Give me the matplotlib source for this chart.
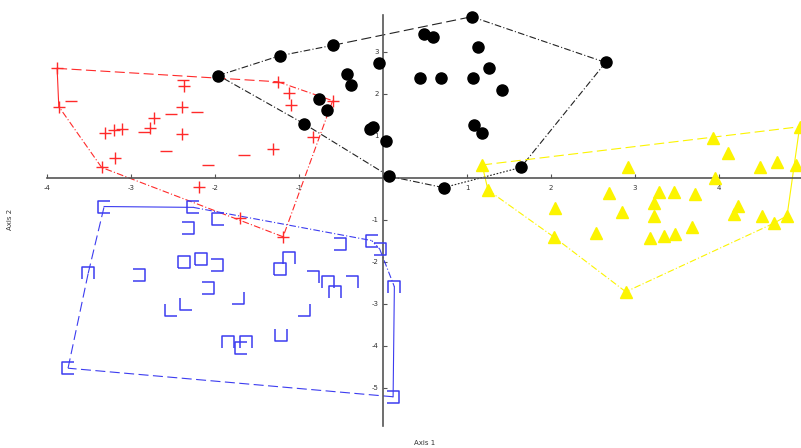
import matplotlib
matplotlib.use("Agg")
import matplotlib.pyplot as plt
from matplotlib.path import Path

plt.rcParams["axes.unicode_minus"] = False

# ---- data ----
black_x = [-1.96, -1.23, -0.595, 1.056, 2.65, 1.64, 0.72, 0.075, -0.94,
           0.49, 0.59, -0.05, 1.13, 1.26, 0.44, 0.69, 1.07, 1.42, -0.425,
           -0.38, -0.76, -0.67, -0.115, -0.155, 0.03, 1.08, 1.175]
black_y = [2.44, 2.91, 3.16, 3.84, 2.75, 0.25, -0.23, 0.04, 1.29,
           3.42, 3.35, 2.74, 3.13, 2.62, 2.38, 2.37, 2.38, 2.09, 2.48,
           2.21, 1.88, 1.62, 1.22, 1.16, 0.87, 1.25, 1.07]
black_hull = [0, 1, 2, 3, 4, 5, 6, 7, 8, 0]

red_x = [-3.88, -1.25, -0.60, -1.19, -3.35, -3.86, -2.37, -2.39, -2.73, -2.77,
         -3.31, -3.20, -3.11, -2.39, -3.19, -1.31, -2.19, -1.12, -1.09, -0.83, -1.70]
red_y = [2.61, 2.29, 1.84, -1.40, 0.25, 1.70, 2.19, 1.68, 1.42, 1.18,
         1.08, 1.14, 1.16, 1.04, 0.47, 0.69, -0.21, 2.02, 1.74, 0.98, -0.96]
red_hull = [0, 1, 2, 3, 4, 5, 0]
red_minus_x = [-2.38, -3.72, -2.21, -2.53, -2.85, -2.58, -2.08, -1.66]
red_minus_y = [2.33, 1.84, 1.58, 1.52, 1.10, 0.64, 0.31, 0.55]

blue_x = [-3.32, -2.26, -0.135, -0.04, 0.135, 0.12, -3.75, -3.51, -1.97, -2.32,
          -0.51, -2.37, -2.17, -1.98, -2.91, -1.23, -1.12, -0.83, -0.66, -0.57,
          -0.37, -2.08, -1.73, -2.35, -2.53, -0.94, -1.21, -1.85, -1.63, -1.69]
blue_y = [-0.68, -0.70, -1.49, -1.69, -2.59, -5.21, -4.53, -2.27, -0.98, -1.18,
          -1.58, -2.01, -1.94, -2.07, -2.31, -2.17, -1.91, -2.35, -2.48, -2.72,
          -2.48, -2.61, -2.85, -3.01, -3.14, -3.14, -3.75, -3.90, -3.90, -4.06]
blue_kind = ["L", "L", "L", "R", "T", "R", "L", "T", "L", "R",
             "R", "S", "S", "R", "R", "S", "T", "TR", "T", "T",
             "TR", "R", "BR", "BL", "BL", "BR", "U", "T", "T", "L"]
blue_hull = [0, 1, 2, 3, 4, 5, 6, 7, 0]

yellow_x = [1.18, 4.96, 4.81, 4.65, 2.89, 2.03, 1.25, 4.92, 3.93, 4.11,
            4.49, 4.69, 2.92, 3.95, 2.69, 3.29, 3.46, 3.72, 3.22, 2.05,
            2.84, 3.23, 4.23, 4.18, 4.51, 2.54, 3.18, 3.35, 3.48, 3.68]
yellow_y = [0.31, 1.22, -0.90, -1.08, -2.71, -1.40, -0.29, 0.31, 0.94, 0.60,
            0.25, 0.37, 0.27, 0.01, -0.35, -0.33, -0.33, -0.37, -0.60, -0.71,
            -0.82, -0.90, -0.67, -0.86, -0.90, -1.32, -1.44, -1.38, -1.34, -1.17]
yellow_hull = [0, 1, 2, 3, 4, 5, 6, 0]

# ---- styles ----
dashes = {"dash": (0, (9, 4)), "dashdot": (0, (6, 2, 1, 2)),
          "dot": (0, (1.5, 1.5)), "solid": "-"}
black_edges = ["dashdot", "dashdot", "dash", "dashdot", "dashdot", "dot",
               "dashdot", "dashdot", "dashdot"]
red_edges = ["dash", "dashdot", "dashdot", "dashdot", "dashdot", "solid"]
blue_edges = ["solid", "dashdot", "dot", "dashdot", "solid", "dash", "dash", "dash"]
yellow_edges = ["dash", "solid", "solid", "dashdot", "dashdot", "dashdot", "solid"]

RED = "#ff2a2a"
BLUE = "#3c3cf0"
YELLOW = "#fcf400"

h = 0.5
bracket = {
    "L": [(h, h), (-h, h), (-h, -h), (h, -h)],
    "R": [(-h, h), (h, h), (h, -h), (-h, -h)],
    "T": [(-h, -h), (-h, h), (h, h), (h, -h)],
    "U": [(-h, h), (-h, -h), (h, -h), (h, h)],
    "S": [(-h, -h), (-h, h), (h, h), (h, -h), (-h, -h)],
    "TR": [(-h, h), (h, h), (h, -h)],
    "BR": [(h, h), (h, -h), (-h, -h)],
    "BL": [(-h, h), (-h, -h), (h, -h)],
}


def draw_hull(ax, xs, ys, idx, edges, color):
    for k in range(len(idx) - 1):
        a, b = idx[k], idx[k + 1]
        ax.plot([xs[a], xs[b]], [ys[a], ys[b]], color=color, lw=0.8,
                linestyle=dashes[edges[k]], zorder=2)


fig = plt.figure(figsize=(8.01, 4.48), dpi=100)
ax = fig.add_axes([0, 0, 1, 1])

draw_hull(ax, black_x, black_y, black_hull, black_edges, "#222222")
draw_hull(ax, red_x, red_y, red_hull, red_edges, RED)
draw_hull(ax, blue_x, blue_y, blue_hull, blue_edges, BLUE)
draw_hull(ax, yellow_x, yellow_y, yellow_hull, yellow_edges, YELLOW)

ax.plot(black_x, black_y, "o", color="black", ms=8, ls="none", zorder=4)
ax.plot(red_x, red_y, "+", color=RED, ms=8, mew=1.0, ls="none", zorder=4)
ax.plot(red_minus_x, red_minus_y, "_", color=RED, ms=8, mew=1.0, ls="none", zorder=4)
for kind, verts in bracket.items():
    px = [x for x, k in zip(blue_x, blue_kind) if k == kind]
    py = [y for y, k in zip(blue_y, blue_kind) if k == kind]
    if px:
        ax.plot(px, py, ls="none", marker=Path(verts), ms=8, mew=1.1,
                mfc="none", mec=BLUE, zorder=4)
ax.plot(yellow_x, yellow_y, "^", color=YELLOW, ms=8, ls="none", zorder=4)

# axes crossing at the origin
ax.set_xlim(-4.56, 4.976)
ax.set_ylim(-6.43, 4.238)
for s in ["top", "right"]:
    ax.spines[s].set_visible(False)
ax.spines["left"].set_position(("data", 0))
ax.spines["bottom"].set_position(("data", 0))
ax.spines["left"].set_bounds(-5.9, 3.88)
ax.spines["bottom"].set_bounds(-4, 4.98)
for s in ["left", "bottom"]:
    ax.spines[s].set_color("#555555")
    ax.spines[s].set_linewidth(1.2)
    ax.spines[s].set_zorder(3)

ax.set_xticks([-4, -3, -2, -1, 1, 2, 3, 4])
ax.set_yticks([-5, -4, -3, -2, -1, 1, 2, 3])
ax.tick_params(direction="in", length=3, width=0.8, labelsize=5,
               color="#555555", labelcolor="#333333", pad=3)
ax.tick_params(axis="x", pad=5)
for lab in ax.get_xticklabels() + ax.get_yticklabels():
    lab.set_zorder(5)

fig.text(0.53, 0.005, "Axis 1", fontsize=5, ha="center", va="bottom", color="#333333")
fig.text(0.012, 0.51, "Axis 2", fontsize=5, rotation=90, ha="center", va="center",
         color="#333333")

fig.savefig("out.png", dpi=100)
